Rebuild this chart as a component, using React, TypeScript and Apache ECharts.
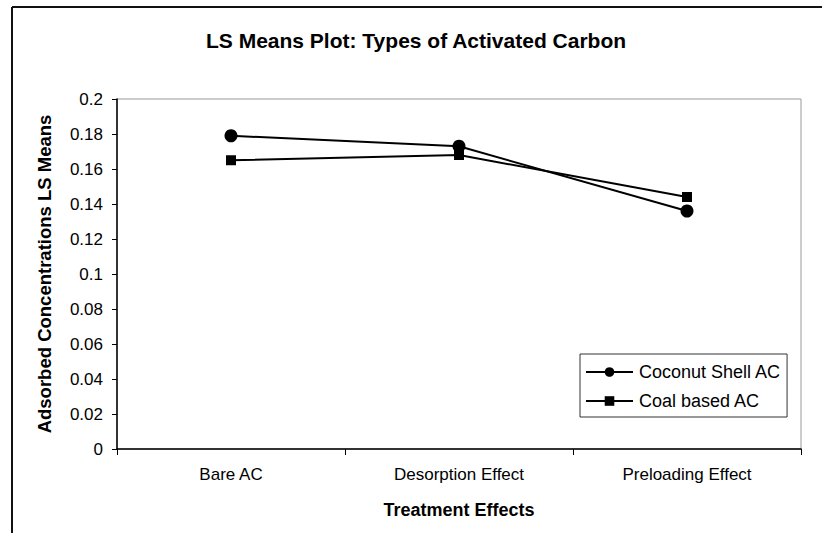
import React, { useEffect, useRef } from "react";
import * as echarts from "echarts";

const categories = ["Bare AC", "Desorption Effect", "Preloading Effect"];
const coconutShell = [0.179, 0.173, 0.136];
const coalBased = [0.165, 0.168, 0.144];
const seriesNames = ["Coconut Shell AC", "Coal based AC"];
const yTicks = { min: 0, max: 0.2, interval: 0.02 };

const FONT = "'Liberation Sans', Arial, sans-serif";

export default function App() {
  const ref = useRef<HTMLDivElement>(null);
  useEffect(() => {
    if (!ref.current) return;
    const chart = echarts.init(ref.current, undefined, { renderer: "svg" });
    chart.setOption({
      animation: false,
      backgroundColor: "#ffffff",
      textStyle: { fontFamily: FONT, color: "#000" },
      title: {
        text: "LS Means Plot: Types of Activated Carbon",
        left: 201,
        top: 25,
        textStyle: { fontFamily: FONT, fontSize: 21, fontWeight: "bold", color: "#000" },
      },
      grid: {
        left: 117,
        right: 21,
        top: 99,
        bottom: 84,
        show: true,
        borderColor: "#999",
        borderWidth: 1,
      },
      legend: {
        orient: "vertical",
        left: 580,
        top: 354,
        data: seriesNames,
        backgroundColor: "#fff",
        borderColor: "#333",
        borderWidth: 1,
        padding: [9, 6, 7, 5],
        itemGap: 11,
        itemWidth: 47,
        itemHeight: 12,
        textStyle: { fontFamily: FONT, fontSize: 18, color: "#000", padding: [0, 0, 0, 1] },
      },
      xAxis: {
        type: "category",
        data: categories,
        boundaryGap: true,
        name: "Treatment Effects",
        nameLocation: "middle",
        nameGap: 52,
        nameTextStyle: { fontFamily: FONT, fontSize: 18, fontWeight: "bold", color: "#000" },
        axisLine: { show: true, lineStyle: { color: "#000", width: 1.5 } },
        axisTick: { show: true, length: 6, lineStyle: { color: "#000" } },
        axisLabel: { fontFamily: FONT, fontSize: 17, color: "#000", margin: 17 },
        splitLine: { show: false },
      },
      yAxis: {
        type: "value",
        min: yTicks.min,
        max: yTicks.max,
        interval: yTicks.interval,
        name: "Adsorbed Concentrations LS Means",
        nameLocation: "middle",
        nameRotate: 90,
        nameGap: 63,
        nameTextStyle: { fontFamily: FONT, fontSize: 18.5, fontWeight: "bold", color: "#000" },
        axisLine: { show: true, lineStyle: { color: "#000", width: 1.5 } },
        axisTick: { show: true, length: 5, lineStyle: { color: "#000" } },
        axisLabel: {
          fontFamily: FONT,
          fontSize: 17,
          color: "#000",
          margin: 14,
          formatter: (v: number) => String(parseFloat(v.toFixed(2))),
        },
        splitLine: { show: false },
      },
      series: [
        {
          name: seriesNames[0],
          type: "line",
          data: coconutShell,
          symbol: "circle",
          symbolSize: 13,
          lineStyle: { color: "#000", width: 2 },
          itemStyle: { color: "#000" },
        },
        {
          name: seriesNames[1],
          type: "line",
          data: coalBased,
          symbol: "rect",
          symbolSize: 10,
          lineStyle: { color: "#000", width: 2 },
          itemStyle: { color: "#000" },
        },
      ],
      graphic: [
        { type: "line", shape: { x1: 12, y1: 7, x2: 12, y2: 533 }, style: { stroke: "#111", lineWidth: 2 } },
        { type: "line", shape: { x1: 12, y1: 7, x2: 822, y2: 7 }, style: { stroke: "#111", lineWidth: 2 } },
      ],
    });
    return () => chart.dispose();
  }, []);
  return (
    <div
      ref={ref}
      style={{ position: "absolute", left: 0, top: 0, width: 822, height: 533 }}
    />
  );
}
